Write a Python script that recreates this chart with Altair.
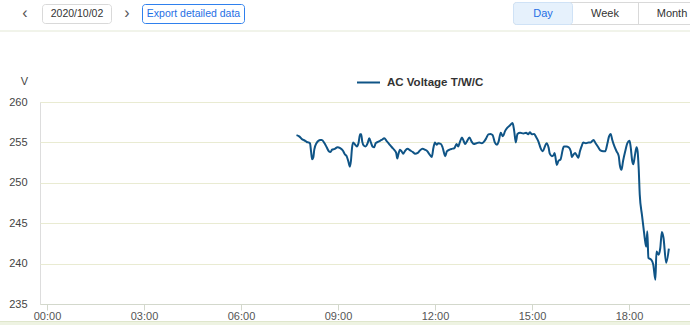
import altair as alt
import pandas as pd

# ---- data ----
times = ["07:43","07:48","07:53","07:56","07:59","08:02","08:05","08:08","08:10","08:12",
         "08:14","08:16","08:20","08:27","08:30","08:35","08:39","08:43","08:46","08:49",
         "08:54","08:59","09:04","09:09","09:13","09:16","09:19","09:22","09:24","09:26",
         "09:28","09:32","09:35","09:38","09:41","09:43","09:45","09:48","09:51","09:55",
         "09:58","10:01","10:04","10:07","10:10","10:15","10:21","10:26","10:30","10:35",
         "10:40","10:44","10:48","10:50","10:52","10:55","10:58","11:01","11:04","11:09",
         "11:14","11:19","11:23","11:28","11:32","11:37","11:41","11:46","11:49","11:54",
         "11:57","12:00","12:03","12:06","12:11","12:14","12:19","12:22","12:27","12:31",
         "12:36","12:40","12:43","12:46","12:50","12:53","12:56","12:59","13:04","13:08",
         "13:12","13:17","13:22","13:27","13:31","13:35","13:39","13:43","13:47","13:51",
         "13:55","13:58","14:02","14:06","14:10","14:14","14:19","14:24","14:27","14:30",
         "14:33","14:38","14:44","14:49","14:53","14:56","15:00","15:04","15:07","15:12",
         "15:16","15:20","15:24","15:27","15:31","15:33","15:37","15:40","15:42","15:46",
         "15:49","15:53","15:57","15:59","16:04","16:08","16:12","16:14","16:17","16:20",
         "16:23","16:26","16:29","16:32","16:35","16:40","16:45","16:49","16:54","16:58",
         "17:03","17:07","17:12","17:16","17:20","17:23","17:26","17:29","17:33","17:37",
         "17:41","17:43","17:46","17:49","17:53","17:57","18:01","18:03","18:06","18:08",
         "18:11","18:14","18:16","18:18","18:20","18:24","18:27","18:30","18:32","18:34",
         "18:36","18:41","18:45","18:49","18:51","18:55","18:58","19:01","19:04","19:09",
         "19:14"]
volts = [255.9,255.75,255.4,255.3,255.2,255.05,255.0,254.9,253.9,252.9,
         253.1,254.1,254.9,255.3,255.3,254.9,254.4,253.9,253.8,254.1,
         254.2,254.4,254.3,254.0,253.5,253.3,252.7,252.0,252.7,254.3,
         255.0,254.7,254.5,254.9,256.0,256.0,255.1,254.6,254.5,254.9,
         255.5,255.0,254.5,254.4,254.9,255.1,255.3,255.5,255.2,254.8,
         254.4,254.1,253.7,253.0,253.5,254.1,253.9,253.6,253.9,254.2,
         254.0,253.8,253.6,253.7,254.0,254.2,254.1,253.9,253.6,253.2,
         254.3,255.0,254.7,254.9,254.8,254.4,253.3,253.9,254.1,254.2,
         254.3,254.8,254.5,255.0,255.6,255.2,254.8,255.1,255.6,255.1,
         254.8,254.9,255.0,254.9,255.1,255.5,256.0,256.05,255.9,255.0,
         254.7,255.1,256.2,255.75,256.4,256.8,257.1,257.4,256.4,255.0,
         256.05,256.2,256.1,256.2,256.0,256.25,256.0,256.05,255.75,255.1,
         254.3,253.9,254.5,254.9,254.3,253.6,253.3,253.4,253.7,252.2,
         252.7,252.9,254.1,254.5,254.5,254.4,253.9,253.2,253.5,253.7,
         253.4,253.1,253.9,254.5,255.0,254.9,255.0,255.0,255.3,254.9,
         254.4,254.0,253.9,253.9,254.9,255.75,256.05,255.3,254.5,253.9,
         253.3,252.2,251.6,252.7,253.9,254.9,255.2,254.5,252.7,252.3,
         253.4,254.4,253.9,251.8,248.5,246.05,244.4,242.75,242.1,244.0,
         240.7,240.5,239.9,238.0,241.5,241.1,241.9,243.9,243.2,240.1,
         241.85]
series_name = "AC Voltage T/W/C"
x_ticks = [0, 3, 6, 9, 12, 15, 18]
y_ticks = [235, 240, 245, 250, 255, 260]

def to_hours(t):
    h, m = t.split(":")
    return int(h) + int(m) / 60.0

df = pd.DataFrame({"hour": [to_hours(t) for t in times], "volt": volts, "series": series_name})
one = pd.DataFrame({"k": [0]})

FONT = "Liberation Sans"
GRID = "#e9ebd2"
AXIS = "#d3d8cc"
LINE = "#0f5486"

line = alt.Chart(df).mark_line(strokeWidth=2, interpolate="monotone").encode(
    x=alt.X("hour:Q",
            scale=alt.Scale(domain=[-0.2165, 19.887], nice=False, zero=False),
            axis=alt.Axis(values=x_ticks, grid=False, title=None,
                          labelExpr="(datum.value < 10 ? '0' : '') + datum.value + ':00'",
                          domainColor=AXIS, tickColor=AXIS, tickSize=6, labelPadding=0,
                          labelFont=FONT, labelFontSize=11, labelColor="#555555")),
    y=alt.Y("volt:Q",
            scale=alt.Scale(domain=[235, 260], nice=False, zero=False),
            axis=alt.Axis(values=y_ticks, grid=True, gridColor=GRID, domain=False,
                          ticks=False, tickSize=0, labelPadding=13,
                          labelFont=FONT, labelFontSize=11, labelColor="#444444",
                          title="V", titleAngle=0, titleX=-16, titleY=-21,
                          titleAlign="center", titleBaseline="middle",
                          titleFont=FONT, titleFontSize=11, titleFontWeight="normal",
                          titleColor="#444444")),
    color=alt.Color("series:N", scale=alt.Scale(range=[LINE]),
                    legend=alt.Legend(orient="none", legendX=316, legendY=-32, title=None,
                                      symbolType="stroke", symbolSize=529, symbolStrokeWidth=2,
                                      labelOffset=6, padding=0,
                                      labelFont=FONT, labelFontSize=11.5, labelFontWeight="bold",
                                      labelColor="#333333")),
)

def txt(s, x, y, color="#333333", size=11):
    return alt.Chart(one).mark_text(text=s, font=FONT, fontSize=size, color=color,
                                    align="center", baseline="middle").encode(
        x=alt.value(x), y=alt.value(y))

def box(x1, x2, y1, y2, stroke, fill="white", r=3):
    return alt.Chart(one).mark_rect(stroke=stroke, fill=fill, strokeWidth=1, cornerRadius=r).encode(
        x=alt.value(x1), x2=alt.value(x2), y=alt.value(y1), y2=alt.value(y2))

def hline(x1, x2, y, color):
    return alt.Chart(one).mark_rule(color=color, strokeWidth=1).encode(
        x=alt.value(x1), x2=alt.value(x2), y=alt.value(y))

def vline(x, y1, y2, color):
    return alt.Chart(one).mark_rule(color=color, strokeWidth=1).encode(
        x=alt.value(x), y=alt.value(y1), y2=alt.value(y2))

deco = [
    hline(-40, 650, -71, "#e3e8d5"),
    txt("‹", -15, -89, size=16, color="#555555"),
    box(2.5, 71.5, -97.5, -78.5, "#d9d9d9"),
    txt("2020/10/02", 37, -88, size=10.5),
    txt("›", 87, -89, size=16, color="#555555"),
    box(102.5, 204.5, -97.5, -78.5, "#2f80ed"),
    txt("Export detailed data", 153.5, -88, color="#1f6fe5", size=10.5),
    box(473.5, 670, -99.5, -77.5, "#d9d9d9"),
    box(473.5, 532.5, -99.5, -77.5, "#cfe2f6", fill="#e6f1fc"),
    vline(598.5, -99.5, -77.5, "#d9d9d9"),
    txt("Day", 503, -88, color="#1f6fe5"),
    txt("Week", 565, -88),
    txt("Month", 632, -88),
    alt.Chart(one).mark_rect(fill="#eef3e2").encode(
        x=alt.value(-40), x2=alt.value(650), y=alt.value(220), y2=alt.value(223)),
    hline(-40, 650, 219.5, "#dfe6cc"),
]

chart = alt.layer(line, *deco).properties(
    width=650, height=202,
    autosize=alt.AutoSizeParams(type="none"),
    padding={"left": 40, "top": 102, "right": 0, "bottom": 21},
).configure_view(stroke=None).configure(background="white")

chart.save("out.html", embed_options={"renderer": "svg", "actions": False})
